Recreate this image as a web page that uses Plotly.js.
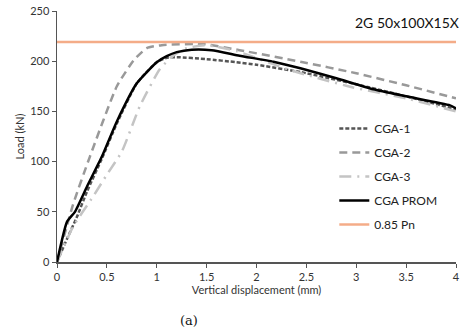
<!DOCTYPE html>
<html>
<head>
<meta charset="utf-8">
<script src="https://cdn.plot.ly/plotly-3.0.1.min.js"></script>
<style>html,body{margin:0;padding:0;background:#fff;}#chart{width:461px;height:334px;}</style>
</head>
<body>
<div id="chart"></div>
<script>
// Data
const cga1X = [0, 0.1, 0.2, 0.3, 0.45, 0.6, 0.8, 1.0, 1.1, 1.2, 1.5, 1.8, 2.0, 2.45, 3.0, 3.5, 4.0];
const cga1Y = [0, 23, 45, 70, 103, 138, 178, 199, 203.5, 204, 202, 199, 196.5, 189, 177, 165, 152];

const cga2X = [0, 0.16, 0.33, 0.6, 0.77, 0.9, 1.05, 1.47, 1.83, 2.44, 3.0, 3.5, 4.0];
const cga2Y = [0, 57, 105, 175, 201, 213, 216, 217, 211, 199.5, 188, 176, 163];

const cga3X = [0, 0.16, 0.36, 0.5, 0.65, 0.83, 1.03, 1.17, 1.3, 1.5, 1.8, 2.34, 2.94, 3.5, 4.0];
const cga3Y = [0, 35, 65, 87, 110, 155, 192, 206, 213, 216, 210, 191, 174.5, 163, 150];

const promX = [0, 0.1, 0.18, 0.3, 0.45, 0.6, 0.8, 1.0, 1.1, 1.2, 1.35, 1.55, 1.83, 2.17, 2.44, 2.8, 3.17, 3.5, 3.94, 4.0];
const promY = [0, 40, 50, 75, 105, 140, 178, 199, 205, 209, 211.5, 211, 205.5, 199.5, 193, 183, 172, 165, 156, 153];

const pnX = [0, 4];
const pnY = [219, 219];

const seriesNames = ["CGA-1", "CGA-2", "CGA-3", "CGA PROM", "0.85 Pn"];
const xTicks = [0, 0.5, 1, 1.5, 2, 2.5, 3, 3.5, 4];
const xTickText = ["0", "0.5", "1", "1.5", "2", "2.5", "3", "3.5", "4"];
const yTicks = [0, 50, 100, 150, 200, 250];

const font = "Lato, 'Open Sans', sans-serif";

const traces = [
  {x: cga1X, y: cga1Y, name: seriesNames[0], legendgroup: "g1", mode: "lines",
   line: {color: "#555555", width: 2.5, dash: "4px,2px", shape: "spline", smoothing: 0.5}},
  {x: cga2X, y: cga2Y, name: seriesNames[1], legendgroup: "g2", mode: "lines",
   line: {color: "#999999", width: 2.5, dash: "8px,5px", shape: "spline", smoothing: 0.5}},
  {x: cga3X, y: cga3Y, name: seriesNames[2], legendgroup: "g3", mode: "lines",
   line: {color: "#c4c4c4", width: 2.5, dash: "12px,6px,2px,6px", shape: "spline", smoothing: 0.5}},
  {x: promX, y: promY, name: seriesNames[3], legendgroup: "g4", mode: "lines",
   line: {color: "#000000", width: 2.5, shape: "spline", smoothing: 0.5}},
  {x: pnX, y: pnY, name: seriesNames[4], legendgroup: "g5", mode: "lines",
   line: {color: "#f4ac88", width: 2.5}}
];

const layout = {
  width: 461, height: 334,
  margin: {l: 57, r: 5, t: 11, b: 72},
  paper_bgcolor: "#ffffff", plot_bgcolor: "#ffffff",
  font: {family: font, size: 11, color: "#333333"},
  showlegend: true,
  legend: {x: 0.695, y: 0.59, xanchor: "left", yanchor: "top",
           font: {family: font, size: 12, color: "#222222"},
           bgcolor: "rgba(0,0,0,0)", traceorder: "grouped", tracegroupgap: 5, itemwidth: 30},
  xaxis: {range: [0, 4], tickvals: xTicks, ticktext: xTickText,
          showgrid: false, zeroline: false, showline: true, linecolor: "#555555", linewidth: 1.5,
          ticks: "outside", ticklen: 4, tickcolor: "#555555",
          tickfont: {family: font, size: 11, color: "#333333"},
          title: {text: "Vertical displacement (mm)", font: {family: font, size: 11, color: "#333333"}, standoff: 4}},
  yaxis: {range: [0, 250], tickvals: yTicks,
          showgrid: false, zeroline: false, showline: true, linecolor: "#555555", linewidth: 1.5,
          ticks: "outside", ticklen: 4, tickcolor: "#555555",
          tickfont: {family: font, size: 11, color: "#333333"},
          title: {text: "Load (kN)", font: {family: font, size: 11, color: "#333333"}, standoff: 3}},
  annotations: [
    {text: "2G 50x100X15X", xref: "paper", yref: "paper", x: 0.743, y: 0.955,
     xanchor: "left", yanchor: "middle", showarrow: false,
     font: {family: font, size: 14, color: "#111111"}},
    {text: "(a)", xref: "paper", yref: "paper", x: 0.33, y: -0.235,
     xanchor: "center", yanchor: "middle", showarrow: false,
     font: {family: "'DejaVu Serif', serif", size: 13, color: "#111111"}}
  ]
};

Plotly.newPlot("chart", traces, layout, {displayModeBar: false, staticPlot: true});
</script>
</body>
</html>
